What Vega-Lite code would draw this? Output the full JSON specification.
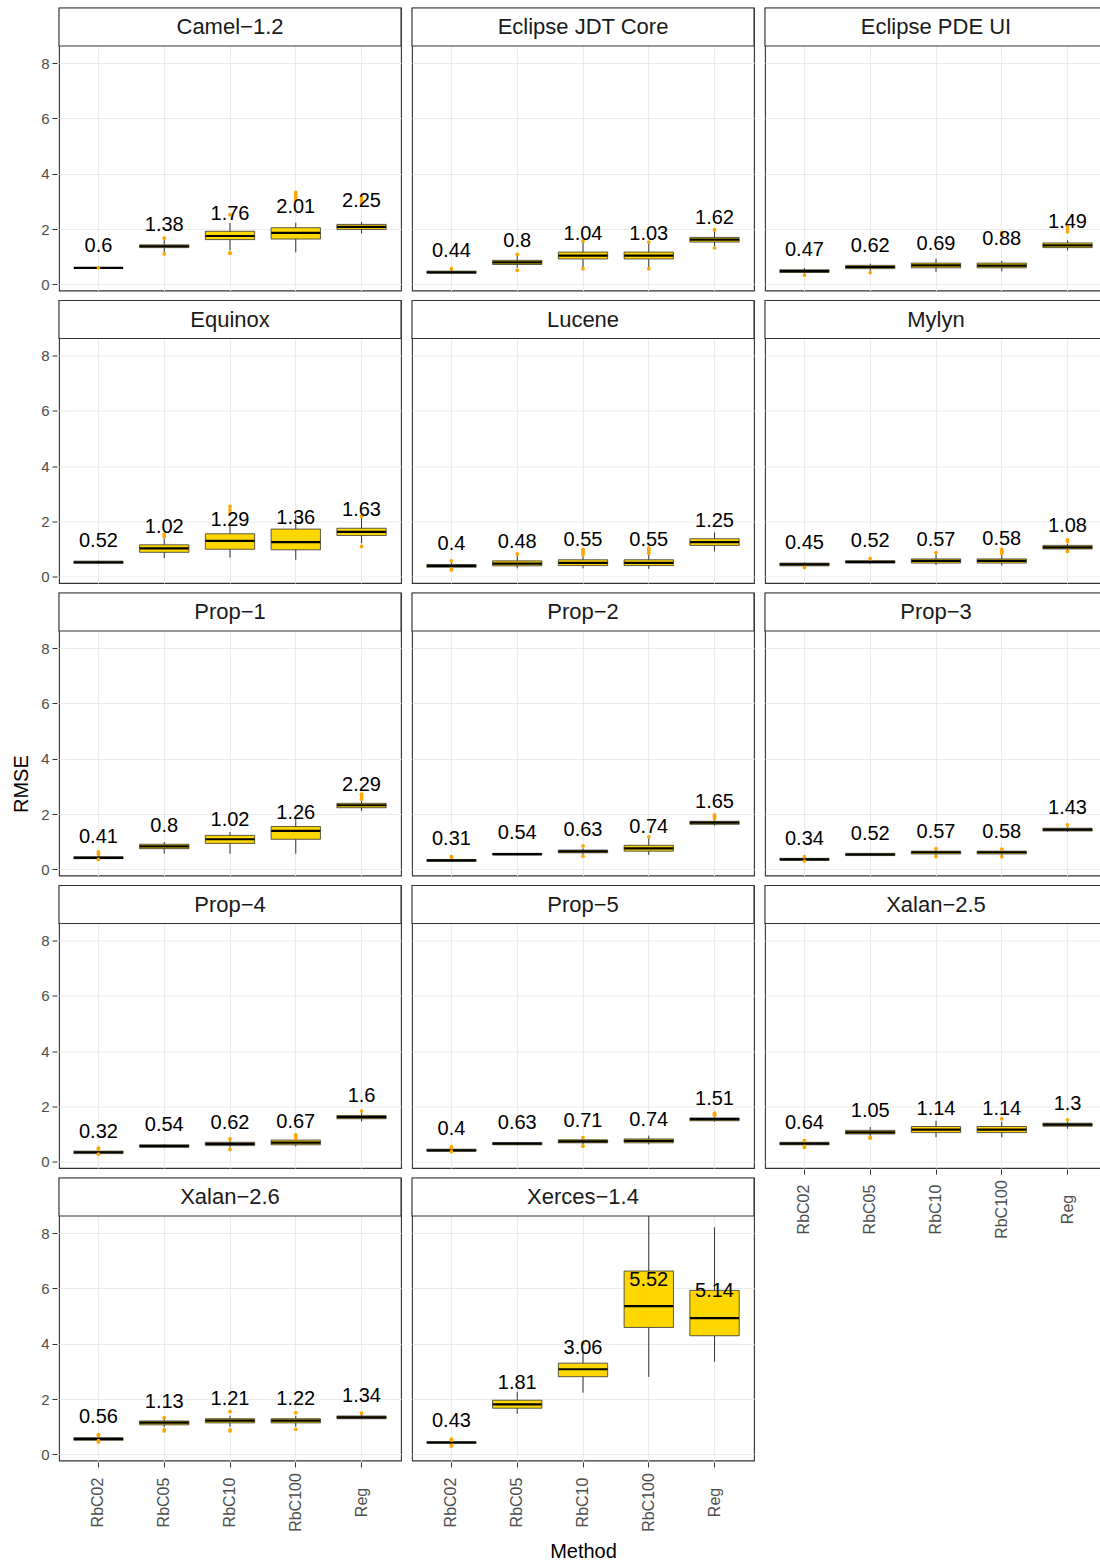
{
  "$schema": "https://vega.github.io/schema/vega-lite/v6.json",
  "padding": {"left": 11, "top": 6, "right": 0, "bottom": 5},
  "config": {
    "font": "Liberation Sans",
    "view": {"stroke": "#333333", "strokeWidth": 1.1}
  },
  "title": {"text": "RMSE", "orient": "left", "anchor": "middle", "fontSize": 20, "fontWeight": "normal", "color": "#000000", "offset": 9},
  "datasets": {"boxes": [
    {"d":"Camel−1.2","m":"RbC02","lo":0.57,"q1":0.585,"med":0.595,"q3":0.605,"hi":0.62,"mean":0.6},
    {"d":"Camel−1.2","m":"RbC05","lo":1.12,"q1":1.33,"med":1.38,"q3":1.43,"hi":1.62,"mean":1.38},
    {"d":"Camel−1.2","m":"RbC10","lo":1.23,"q1":1.62,"med":1.75,"q3":1.92,"hi":2.22,"mean":1.76},
    {"d":"Camel−1.2","m":"RbC100","lo":1.16,"q1":1.64,"med":1.86,"q3":2.05,"hi":2.23,"mean":2.01},
    {"d":"Camel−1.2","m":"Reg","lo":1.84,"q1":1.99,"med":2.08,"q3":2.17,"hi":2.26,"mean":2.25},
    {"d":"Eclipse JDT Core","m":"RbC02","lo":0.37,"q1":0.4,"med":0.44,"q3":0.48,"hi":0.53,"mean":0.44},
    {"d":"Eclipse JDT Core","m":"RbC05","lo":0.6,"q1":0.72,"med":0.8,"q3":0.87,"hi":1.05,"mean":0.8},
    {"d":"Eclipse JDT Core","m":"RbC10","lo":0.6,"q1":0.92,"med":1.04,"q3":1.17,"hi":1.53,"mean":1.04},
    {"d":"Eclipse JDT Core","m":"RbC100","lo":0.6,"q1":0.92,"med":1.04,"q3":1.17,"hi":1.5,"mean":1.03},
    {"d":"Eclipse JDT Core","m":"Reg","lo":1.35,"q1":1.53,"med":1.62,"q3":1.7,"hi":1.93,"mean":1.62},
    {"d":"Eclipse PDE UI","m":"RbC02","lo":0.38,"q1":0.43,"med":0.48,"q3":0.53,"hi":0.6,"mean":0.47},
    {"d":"Eclipse PDE UI","m":"RbC05","lo":0.47,"q1":0.57,"med":0.63,"q3":0.69,"hi":0.75,"mean":0.62},
    {"d":"Eclipse PDE UI","m":"RbC10","lo":0.45,"q1":0.6,"med":0.69,"q3":0.77,"hi":0.93,"mean":0.69},
    {"d":"Eclipse PDE UI","m":"RbC100","lo":0.47,"q1":0.6,"med":0.68,"q3":0.77,"hi":0.85,"mean":0.88},
    {"d":"Eclipse PDE UI","m":"Reg","lo":1.23,"q1":1.33,"med":1.41,"q3":1.5,"hi":1.59,"mean":1.49},
    {"d":"Equinox","m":"RbC02","lo":0.47,"q1":0.49,"med":0.53,"q3":0.57,"hi":0.59,"mean":0.52},
    {"d":"Equinox","m":"RbC05","lo":0.68,"q1":0.89,"med":1.03,"q3":1.16,"hi":1.4,"mean":1.02},
    {"d":"Equinox","m":"RbC10","lo":0.7,"q1":1.0,"med":1.3,"q3":1.56,"hi":1.94,"mean":1.29},
    {"d":"Equinox","m":"RbC100","lo":0.62,"q1":0.98,"med":1.26,"q3":1.73,"hi":2.25,"mean":1.36},
    {"d":"Equinox","m":"Reg","lo":1.22,"q1":1.5,"med":1.63,"q3":1.76,"hi":2.13,"mean":1.63},
    {"d":"Lucene","m":"RbC02","lo":0.3,"q1":0.35,"med":0.4,"q3":0.45,"hi":0.52,"mean":0.4},
    {"d":"Lucene","m":"RbC05","lo":0.31,"q1":0.4,"med":0.48,"q3":0.58,"hi":0.8,"mean":0.48},
    {"d":"Lucene","m":"RbC10","lo":0.31,"q1":0.41,"med":0.51,"q3":0.62,"hi":0.92,"mean":0.55},
    {"d":"Lucene","m":"RbC100","lo":0.29,"q1":0.41,"med":0.51,"q3":0.62,"hi":0.92,"mean":0.55},
    {"d":"Lucene","m":"Reg","lo":0.92,"q1":1.14,"med":1.26,"q3":1.38,"hi":1.61,"mean":1.25},
    {"d":"Mylyn","m":"RbC02","lo":0.38,"q1":0.4,"med":0.45,"q3":0.5,"hi":0.52,"mean":0.45},
    {"d":"Mylyn","m":"RbC05","lo":0.47,"q1":0.5,"med":0.54,"q3":0.59,"hi":0.62,"mean":0.52},
    {"d":"Mylyn","m":"RbC10","lo":0.43,"q1":0.5,"med":0.58,"q3":0.65,"hi":0.86,"mean":0.57},
    {"d":"Mylyn","m":"RbC100","lo":0.41,"q1":0.5,"med":0.58,"q3":0.65,"hi":0.84,"mean":0.58},
    {"d":"Mylyn","m":"Reg","lo":0.95,"q1":1.01,"med":1.07,"q3":1.14,"hi":1.2,"mean":1.08},
    {"d":"Prop−1","m":"RbC02","lo":0.36,"q1":0.39,"med":0.42,"q3":0.46,"hi":0.5,"mean":0.41},
    {"d":"Prop−1","m":"RbC05","lo":0.57,"q1":0.75,"med":0.83,"q3":0.91,"hi":0.99,"mean":0.8},
    {"d":"Prop−1","m":"RbC10","lo":0.57,"q1":0.94,"med":1.09,"q3":1.23,"hi":1.35,"mean":1.02},
    {"d":"Prop−1","m":"RbC100","lo":0.57,"q1":1.09,"med":1.39,"q3":1.55,"hi":1.81,"mean":1.26},
    {"d":"Prop−1","m":"Reg","lo":2.11,"q1":2.23,"med":2.32,"q3":2.39,"hi":2.48,"mean":2.29},
    {"d":"Prop−2","m":"RbC02","lo":0.27,"q1":0.29,"med":0.33,"q3":0.36,"hi":0.4,"mean":0.31},
    {"d":"Prop−2","m":"RbC05","lo":0.5,"q1":0.52,"med":0.55,"q3":0.58,"hi":0.6,"mean":0.54},
    {"d":"Prop−2","m":"RbC10","lo":0.54,"q1":0.6,"med":0.65,"q3":0.7,"hi":0.76,"mean":0.63},
    {"d":"Prop−2","m":"RbC100","lo":0.52,"q1":0.66,"med":0.76,"q3":0.87,"hi":1.15,"mean":0.74},
    {"d":"Prop−2","m":"Reg","lo":1.58,"q1":1.63,"med":1.69,"q3":1.74,"hi":1.8,"mean":1.65},
    {"d":"Prop−3","m":"RbC02","lo":0.31,"q1":0.33,"med":0.36,"q3":0.4,"hi":0.43,"mean":0.34},
    {"d":"Prop−3","m":"RbC05","lo":0.49,"q1":0.5,"med":0.54,"q3":0.58,"hi":0.59,"mean":0.52},
    {"d":"Prop−3","m":"RbC10","lo":0.5,"q1":0.56,"med":0.62,"q3":0.66,"hi":0.72,"mean":0.57},
    {"d":"Prop−3","m":"RbC100","lo":0.5,"q1":0.56,"med":0.62,"q3":0.66,"hi":0.72,"mean":0.58},
    {"d":"Prop−3","m":"Reg","lo":1.36,"q1":1.39,"med":1.44,"q3":1.49,"hi":1.52,"mean":1.43},
    {"d":"Prop−4","m":"RbC02","lo":0.28,"q1":0.3,"med":0.35,"q3":0.39,"hi":0.42,"mean":0.32},
    {"d":"Prop−4","m":"RbC05","lo":0.51,"q1":0.53,"med":0.57,"q3":0.62,"hi":0.64,"mean":0.54},
    {"d":"Prop−4","m":"RbC10","lo":0.52,"q1":0.59,"med":0.65,"q3":0.71,"hi":0.78,"mean":0.62},
    {"d":"Prop−4","m":"RbC100","lo":0.56,"q1":0.62,"med":0.7,"q3":0.79,"hi":0.84,"mean":0.67},
    {"d":"Prop−4","m":"Reg","lo":1.46,"q1":1.56,"med":1.62,"q3":1.68,"hi":1.76,"mean":1.6},
    {"d":"Prop−5","m":"RbC02","lo":0.37,"q1":0.39,"med":0.42,"q3":0.46,"hi":0.49,"mean":0.4},
    {"d":"Prop−5","m":"RbC05","lo":0.6,"q1":0.62,"med":0.66,"q3":0.7,"hi":0.72,"mean":0.63},
    {"d":"Prop−5","m":"RbC10","lo":0.62,"q1":0.69,"med":0.74,"q3":0.8,"hi":0.84,"mean":0.71},
    {"d":"Prop−5","m":"RbC100","lo":0.63,"q1":0.69,"med":0.76,"q3":0.83,"hi":0.95,"mean":0.74},
    {"d":"Prop−5","m":"Reg","lo":1.45,"q1":1.49,"med":1.55,"q3":1.59,"hi":1.64,"mean":1.51},
    {"d":"Xalan−2.5","m":"RbC02","lo":0.58,"q1":0.62,"med":0.66,"q3":0.71,"hi":0.74,"mean":0.64},
    {"d":"Xalan−2.5","m":"RbC05","lo":0.92,"q1":1.01,"med":1.07,"q3":1.14,"hi":1.26,"mean":1.05},
    {"d":"Xalan−2.5","m":"RbC10","lo":0.89,"q1":1.06,"med":1.17,"q3":1.28,"hi":1.49,"mean":1.14},
    {"d":"Xalan−2.5","m":"RbC100","lo":0.89,"q1":1.06,"med":1.17,"q3":1.28,"hi":1.45,"mean":1.14},
    {"d":"Xalan−2.5","m":"Reg","lo":1.2,"q1":1.29,"med":1.35,"q3":1.4,"hi":1.45,"mean":1.3},
    {"d":"Xalan−2.6","m":"RbC02","lo":0.47,"q1":0.51,"med":0.56,"q3":0.6,"hi":0.66,"mean":0.56},
    {"d":"Xalan−2.6","m":"RbC05","lo":0.98,"q1":1.07,"med":1.15,"q3":1.21,"hi":1.28,"mean":1.13},
    {"d":"Xalan−2.6","m":"RbC10","lo":1.0,"q1":1.14,"med":1.22,"q3":1.29,"hi":1.4,"mean":1.21},
    {"d":"Xalan−2.6","m":"RbC100","lo":1.0,"q1":1.14,"med":1.22,"q3":1.29,"hi":1.4,"mean":1.22},
    {"d":"Xalan−2.6","m":"Reg","lo":1.27,"q1":1.29,"med":1.34,"q3":1.39,"hi":1.44,"mean":1.34},
    {"d":"Xerces−1.4","m":"RbC02","lo":0.36,"q1":0.4,"med":0.43,"q3":0.46,"hi":0.5,"mean":0.43},
    {"d":"Xerces−1.4","m":"RbC05","lo":1.47,"q1":1.67,"med":1.81,"q3":1.96,"hi":2.26,"mean":1.81},
    {"d":"Xerces−1.4","m":"RbC10","lo":2.23,"q1":2.81,"med":3.08,"q3":3.3,"hi":3.74,"mean":3.06},
    {"d":"Xerces−1.4","m":"RbC100","lo":2.8,"q1":4.59,"med":5.36,"q3":6.63,"hi":9.2,"mean":5.52},
    {"d":"Xerces−1.4","m":"Reg","lo":3.35,"q1":4.29,"med":4.93,"q3":5.93,"hi":8.21,"mean":5.14},
    {"d":"Camel−1.2","m":"RbC02","out":0.61},
    {"d":"Camel−1.2","m":"RbC05","out":1.67},
    {"d":"Camel−1.2","m":"RbC05","out":1.1},
    {"d":"Camel−1.2","m":"RbC10","out":2.52},
    {"d":"Camel−1.2","m":"RbC10","out":1.14},
    {"d":"Camel−1.2","m":"RbC10","out":1.12},
    {"d":"Camel−1.2","m":"RbC100","out":3.05},
    {"d":"Camel−1.2","m":"RbC100","out":3.15},
    {"d":"Camel−1.2","m":"RbC100","out":3.25},
    {"d":"Camel−1.2","m":"RbC100","out":3.33},
    {"d":"Camel−1.2","m":"Reg","out":2.95},
    {"d":"Camel−1.2","m":"Reg","out":3.05},
    {"d":"Camel−1.2","m":"Reg","out":3.15},
    {"d":"Eclipse JDT Core","m":"RbC02","out":0.57},
    {"d":"Eclipse JDT Core","m":"RbC05","out":1.09},
    {"d":"Eclipse JDT Core","m":"RbC05","out":0.51},
    {"d":"Eclipse JDT Core","m":"RbC10","out":1.57},
    {"d":"Eclipse JDT Core","m":"RbC10","out":0.57},
    {"d":"Eclipse JDT Core","m":"RbC100","out":1.53},
    {"d":"Eclipse JDT Core","m":"RbC100","out":0.57},
    {"d":"Eclipse JDT Core","m":"Reg","out":1.98},
    {"d":"Eclipse JDT Core","m":"Reg","out":1.32},
    {"d":"Eclipse PDE UI","m":"RbC02","out":0.34},
    {"d":"Eclipse PDE UI","m":"RbC05","out":0.43},
    {"d":"Eclipse PDE UI","m":"RbC100","out":1.8},
    {"d":"Eclipse PDE UI","m":"RbC100","out":1.88},
    {"d":"Eclipse PDE UI","m":"Reg","out":1.9},
    {"d":"Eclipse PDE UI","m":"Reg","out":2.0},
    {"d":"Eclipse PDE UI","m":"Reg","out":2.1},
    {"d":"Equinox","m":"RbC05","out":1.46},
    {"d":"Equinox","m":"RbC05","out":1.52},
    {"d":"Equinox","m":"RbC05","out":1.55},
    {"d":"Equinox","m":"RbC10","out":2.31},
    {"d":"Equinox","m":"RbC10","out":2.42},
    {"d":"Equinox","m":"RbC10","out":2.55},
    {"d":"Equinox","m":"Reg","out":2.19},
    {"d":"Equinox","m":"Reg","out":1.1},
    {"d":"Lucene","m":"RbC02","out":0.58},
    {"d":"Lucene","m":"RbC02","out":0.25},
    {"d":"Lucene","m":"RbC02","out":0.28},
    {"d":"Lucene","m":"RbC05","out":0.83},
    {"d":"Lucene","m":"RbC10","out":0.8},
    {"d":"Lucene","m":"RbC10","out":0.88},
    {"d":"Lucene","m":"RbC10","out":0.95},
    {"d":"Lucene","m":"RbC10","out":1.0},
    {"d":"Lucene","m":"RbC100","out":0.86},
    {"d":"Lucene","m":"RbC100","out":0.95},
    {"d":"Lucene","m":"RbC100","out":1.04},
    {"d":"Mylyn","m":"RbC02","out":0.34},
    {"d":"Mylyn","m":"RbC05","out":0.66},
    {"d":"Mylyn","m":"RbC10","out":0.88},
    {"d":"Mylyn","m":"RbC100","out":0.86},
    {"d":"Mylyn","m":"RbC100","out":0.93},
    {"d":"Mylyn","m":"RbC100","out":1.0},
    {"d":"Mylyn","m":"Reg","out":1.28},
    {"d":"Mylyn","m":"Reg","out":1.34},
    {"d":"Mylyn","m":"Reg","out":0.92},
    {"d":"Prop−1","m":"RbC02","out":0.55},
    {"d":"Prop−1","m":"RbC02","out":0.63},
    {"d":"Prop−1","m":"RbC02","out":0.36},
    {"d":"Prop−1","m":"Reg","out":2.54},
    {"d":"Prop−1","m":"Reg","out":2.63},
    {"d":"Prop−1","m":"Reg","out":2.72},
    {"d":"Prop−2","m":"RbC02","out":0.44},
    {"d":"Prop−2","m":"RbC02","out":0.46},
    {"d":"Prop−2","m":"RbC10","out":0.85},
    {"d":"Prop−2","m":"RbC10","out":0.48},
    {"d":"Prop−2","m":"RbC100","out":1.18},
    {"d":"Prop−2","m":"Reg","out":1.84},
    {"d":"Prop−2","m":"Reg","out":1.92},
    {"d":"Prop−2","m":"Reg","out":1.97},
    {"d":"Prop−3","m":"RbC02","out":0.46},
    {"d":"Prop−3","m":"RbC02","out":0.3},
    {"d":"Prop−3","m":"RbC10","out":0.75},
    {"d":"Prop−3","m":"RbC10","out":0.46},
    {"d":"Prop−3","m":"RbC100","out":0.46},
    {"d":"Prop−3","m":"RbC100","out":0.73},
    {"d":"Prop−3","m":"Reg","out":1.61},
    {"d":"Prop−4","m":"RbC02","out":0.46},
    {"d":"Prop−4","m":"RbC02","out":0.5},
    {"d":"Prop−4","m":"RbC02","out":0.28},
    {"d":"Prop−4","m":"RbC10","out":0.83},
    {"d":"Prop−4","m":"RbC10","out":0.45},
    {"d":"Prop−4","m":"RbC100","out":0.86},
    {"d":"Prop−4","m":"RbC100","out":0.92},
    {"d":"Prop−4","m":"RbC100","out":0.98},
    {"d":"Prop−4","m":"Reg","out":1.84},
    {"d":"Prop−5","m":"RbC02","out":0.51},
    {"d":"Prop−5","m":"RbC02","out":0.54},
    {"d":"Prop−5","m":"RbC02","out":0.37},
    {"d":"Prop−5","m":"RbC10","out":0.88},
    {"d":"Prop−5","m":"RbC10","out":0.57},
    {"d":"Prop−5","m":"Reg","out":1.68},
    {"d":"Prop−5","m":"Reg","out":1.72},
    {"d":"Prop−5","m":"Reg","out":1.76},
    {"d":"Xalan−2.5","m":"RbC02","out":0.77},
    {"d":"Xalan−2.5","m":"RbC02","out":0.53},
    {"d":"Xalan−2.5","m":"RbC02","out":0.56},
    {"d":"Xalan−2.5","m":"RbC05","out":0.86},
    {"d":"Xalan−2.5","m":"RbC05","out":0.89},
    {"d":"Xalan−2.5","m":"RbC100","out":1.56},
    {"d":"Xalan−2.5","m":"Reg","out":1.52},
    {"d":"Xalan−2.6","m":"RbC02","out":0.45},
    {"d":"Xalan−2.6","m":"RbC02","out":0.5},
    {"d":"Xalan−2.6","m":"RbC02","out":0.68},
    {"d":"Xalan−2.6","m":"RbC02","out":0.72},
    {"d":"Xalan−2.6","m":"RbC05","out":1.33},
    {"d":"Xalan−2.6","m":"RbC05","out":0.85},
    {"d":"Xalan−2.6","m":"RbC05","out":0.89},
    {"d":"Xalan−2.6","m":"RbC10","out":1.55},
    {"d":"Xalan−2.6","m":"RbC10","out":0.85},
    {"d":"Xalan−2.6","m":"RbC10","out":0.89},
    {"d":"Xalan−2.6","m":"RbC100","out":1.51},
    {"d":"Xalan−2.6","m":"RbC100","out":0.91},
    {"d":"Xalan−2.6","m":"Reg","out":1.49},
    {"d":"Xerces−1.4","m":"RbC02","out":0.3},
    {"d":"Xerces−1.4","m":"RbC02","out":0.33},
    {"d":"Xerces−1.4","m":"RbC02","out":0.52},
    {"d":"Xerces−1.4","m":"RbC02","out":0.55},
    {"d":"Xerces−1.4","m":"RbC10","out":4.02}
  ]},
  "data": {"name": "boxes"},
  "spacing": 7,
  "hconcat": [
    {
      "transform": [{"filter": {"field": "d", "oneOf": ["Camel−1.2","Equinox","Prop−1","Prop−4","Xalan−2.6"]}}],
      "facet": {"row": {"field": "d", "type": "nominal", "sort": ["Camel−1.2","Equinox","Prop−1","Prop−4","Xalan−2.6"], "header": null, "title": null}},
      "spacing": 6.5,
      "spec": {
        "width": 342, "height": 282.5,
        "layer": [
          {
            "transform": [{"filter": "isValid(datum.q1)"}],
            "mark": {"type": "rule", "color": "#333333", "strokeWidth": 1},
            "encoding": {
              "x": {"field": "m", "type": "nominal", "sort": ["RbC02","RbC05","RbC10","RbC100","Reg"], "scale": {"paddingInner": 0.25, "paddingOuter": 0.225}, "title": null,
                "axis": {"grid": true, "gridColor": "#EBEBEB", "gridWidth": 1.1, "labelAngle": -90, "labelAlign": "center", "labelBaseline": "middle", "labelFontSize": 16, "labelColor": "#4D4D4D", "labelPadding": 35, "tickSize": 5, "tickColor": "#333333", "domain": false}},
              "y": {"field": "lo", "type": "quantitative", "title": null, "scale": {"domain": [-0.22, 9.994], "nice": false, "zero": false},
                "axis": {"values": [0,1,2,3,4,5,6,7,8], "labelExpr": "datum.value % 2 === 0 ? datum.label : ''", "gridColor": "#EBEBEB",
                  "gridWidth": {"condition": {"test": "datum.value % 2 === 0", "value": 1.1}, "value": 0.55},
                  "tickOpacity": {"condition": {"test": "datum.value % 2 === 0", "value": 1}, "value": 0},
                  "tickSize": 5, "tickColor": "#333333", "labelColor": "#4D4D4D", "labelFontSize": 15, "labelPadding": 3, "domain": false}},
              "y2": {"field": "hi"}
            }
          },
          {"transform": [{"filter": "isValid(datum.q1)"}], "mark": {"type": "bar", "fill": "#FFD700", "stroke": "#333333", "strokeWidth": 0.8},
            "encoding": {"x": {"field": "m", "type": "nominal", "sort": ["RbC02","RbC05","RbC10","RbC100","Reg"]}, "y": {"field": "q1", "type": "quantitative"}, "y2": {"field": "q3"}}},
          {"transform": [{"filter": "isValid(datum.q1)"}], "mark": {"type": "tick", "color": "#000000", "thickness": 2.2, "size": 49, "opacity": 1},
            "encoding": {"x": {"field": "m", "type": "nominal", "sort": ["RbC02","RbC05","RbC10","RbC100","Reg"]}, "y": {"field": "med", "type": "quantitative"}}},
          {"transform": [{"filter": "isValid(datum.out)"}], "mark": {"type": "circle", "color": "#FFA500", "size": 14, "opacity": 1},
            "encoding": {"x": {"field": "m", "type": "nominal", "sort": ["RbC02","RbC05","RbC10","RbC100","Reg"]}, "y": {"field": "out", "type": "quantitative"}}},
          {"transform": [{"filter": "isValid(datum.mean)"}], "mark": {"type": "text", "dy": -21.5, "fontSize": 20, "baseline": "middle", "color": "#000000"},
            "encoding": {"x": {"field": "m", "type": "nominal", "sort": ["RbC02","RbC05","RbC10","RbC100","Reg"]}, "y": {"field": "mean", "type": "quantitative"}, "text": {"field": "mean", "type": "nominal"}}},
          {"transform": [{"filter": "isValid(datum.q1) && datum.m === 'RbC10'"}], "mark": {"type": "rect", "fill": "#FFFFFF", "stroke": "#333333", "strokeWidth": 1.1},
            "encoding": {"y": {"datum": 8.62, "type": "quantitative"}, "y2": {"datum": 9.994}}},
          {"transform": [{"filter": "isValid(datum.q1) && datum.m === 'RbC10'"}], "mark": {"type": "text", "fontSize": 22, "baseline": "middle", "color": "#1A1A1A"},
            "encoding": {"x": {"field": "m", "type": "nominal", "sort": ["RbC02","RbC05","RbC10","RbC100","Reg"]}, "y": {"datum": 9.307, "type": "quantitative"}, "text": {"field": "d", "type": "nominal"}}}
        ]
      }
    },
    {
      "transform": [{"filter": {"field": "d", "oneOf": ["Eclipse JDT Core","Lucene","Prop−2","Prop−5","Xerces−1.4"]}}],
      "facet": {"row": {"field": "d", "type": "nominal", "sort": ["Eclipse JDT Core","Lucene","Prop−2","Prop−5","Xerces−1.4"], "header": null, "title": null}},
      "spacing": 6.5,
      "spec": {
        "width": 342, "height": 282.5,
        "layer": [
          {
            "transform": [{"filter": "isValid(datum.q1)"}],
            "mark": {"type": "rule", "color": "#333333", "strokeWidth": 1},
            "encoding": {
              "x": {"field": "m", "type": "nominal", "sort": ["RbC02","RbC05","RbC10","RbC100","Reg"], "scale": {"paddingInner": 0.25, "paddingOuter": 0.225}, "title": "Method",
                "axis": {"grid": true, "gridColor": "#EBEBEB", "gridWidth": 1.1, "labelAngle": -90, "labelAlign": "center", "labelBaseline": "middle", "labelFontSize": 16, "labelColor": "#4D4D4D", "labelPadding": 35, "tickSize": 5, "tickColor": "#333333", "domain": false,
                  "titleFontSize": 20, "titleFontWeight": "normal", "titleColor": "#000000", "titlePadding": 10}},
              "y": {"field": "lo", "type": "quantitative", "title": null, "scale": {"domain": [-0.22, 9.994], "nice": false, "zero": false},
                "axis": {"values": [0,1,2,3,4,5,6,7,8], "labels": false, "ticks": false, "domain": false, "gridColor": "#EBEBEB",
                  "gridWidth": {"condition": {"test": "datum.value % 2 === 0", "value": 1.1}, "value": 0.55}}},
              "y2": {"field": "hi"}
            }
          },
          {"transform": [{"filter": "isValid(datum.q1)"}], "mark": {"type": "bar", "fill": "#FFD700", "stroke": "#333333", "strokeWidth": 0.8},
            "encoding": {"x": {"field": "m", "type": "nominal", "sort": ["RbC02","RbC05","RbC10","RbC100","Reg"]}, "y": {"field": "q1", "type": "quantitative"}, "y2": {"field": "q3"}}},
          {"transform": [{"filter": "isValid(datum.q1)"}], "mark": {"type": "tick", "color": "#000000", "thickness": 2.2, "size": 49, "opacity": 1},
            "encoding": {"x": {"field": "m", "type": "nominal", "sort": ["RbC02","RbC05","RbC10","RbC100","Reg"]}, "y": {"field": "med", "type": "quantitative"}}},
          {"transform": [{"filter": "isValid(datum.out)"}], "mark": {"type": "circle", "color": "#FFA500", "size": 14, "opacity": 1},
            "encoding": {"x": {"field": "m", "type": "nominal", "sort": ["RbC02","RbC05","RbC10","RbC100","Reg"]}, "y": {"field": "out", "type": "quantitative"}}},
          {"transform": [{"filter": "isValid(datum.mean)"}], "mark": {"type": "text", "dy": -21.5, "fontSize": 20, "baseline": "middle", "color": "#000000"},
            "encoding": {"x": {"field": "m", "type": "nominal", "sort": ["RbC02","RbC05","RbC10","RbC100","Reg"]}, "y": {"field": "mean", "type": "quantitative"}, "text": {"field": "mean", "type": "nominal"}}},
          {"transform": [{"filter": "isValid(datum.q1) && datum.m === 'RbC10'"}], "mark": {"type": "rect", "fill": "#FFFFFF", "stroke": "#333333", "strokeWidth": 1.1},
            "encoding": {"y": {"datum": 8.62, "type": "quantitative"}, "y2": {"datum": 9.994}}},
          {"transform": [{"filter": "isValid(datum.q1) && datum.m === 'RbC10'"}], "mark": {"type": "text", "fontSize": 22, "baseline": "middle", "color": "#1A1A1A"},
            "encoding": {"x": {"field": "m", "type": "nominal", "sort": ["RbC02","RbC05","RbC10","RbC100","Reg"]}, "y": {"datum": 9.307, "type": "quantitative"}, "text": {"field": "d", "type": "nominal"}}}
        ]
      }
    },
    {
      "transform": [{"filter": {"field": "d", "oneOf": ["Eclipse PDE UI","Mylyn","Prop−3","Xalan−2.5"]}}],
      "facet": {"row": {"field": "d", "type": "nominal", "sort": ["Eclipse PDE UI","Mylyn","Prop−3","Xalan−2.5"], "header": null, "title": null}},
      "spacing": 6.5,
      "spec": {
        "width": 342, "height": 282.5,
        "layer": [
          {
            "transform": [{"filter": "isValid(datum.q1)"}],
            "mark": {"type": "rule", "color": "#333333", "strokeWidth": 1},
            "encoding": {
              "x": {"field": "m", "type": "nominal", "sort": ["RbC02","RbC05","RbC10","RbC100","Reg"], "scale": {"paddingInner": 0.25, "paddingOuter": 0.225}, "title": null,
                "axis": {"grid": true, "gridColor": "#EBEBEB", "gridWidth": 1.1, "labelAngle": -90, "labelAlign": "center", "labelBaseline": "middle", "labelFontSize": 16, "labelColor": "#4D4D4D", "labelPadding": 35, "tickSize": 5, "tickColor": "#333333", "domain": false}},
              "y": {"field": "lo", "type": "quantitative", "title": null, "scale": {"domain": [-0.22, 9.994], "nice": false, "zero": false},
                "axis": {"values": [0,1,2,3,4,5,6,7,8], "labels": false, "ticks": false, "domain": false, "gridColor": "#EBEBEB",
                  "gridWidth": {"condition": {"test": "datum.value % 2 === 0", "value": 1.1}, "value": 0.55}}},
              "y2": {"field": "hi"}
            }
          },
          {"transform": [{"filter": "isValid(datum.q1)"}], "mark": {"type": "bar", "fill": "#FFD700", "stroke": "#333333", "strokeWidth": 0.8},
            "encoding": {"x": {"field": "m", "type": "nominal", "sort": ["RbC02","RbC05","RbC10","RbC100","Reg"]}, "y": {"field": "q1", "type": "quantitative"}, "y2": {"field": "q3"}}},
          {"transform": [{"filter": "isValid(datum.q1)"}], "mark": {"type": "tick", "color": "#000000", "thickness": 2.2, "size": 49, "opacity": 1},
            "encoding": {"x": {"field": "m", "type": "nominal", "sort": ["RbC02","RbC05","RbC10","RbC100","Reg"]}, "y": {"field": "med", "type": "quantitative"}}},
          {"transform": [{"filter": "isValid(datum.out)"}], "mark": {"type": "circle", "color": "#FFA500", "size": 14, "opacity": 1},
            "encoding": {"x": {"field": "m", "type": "nominal", "sort": ["RbC02","RbC05","RbC10","RbC100","Reg"]}, "y": {"field": "out", "type": "quantitative"}}},
          {"transform": [{"filter": "isValid(datum.mean)"}], "mark": {"type": "text", "dy": -21.5, "fontSize": 20, "baseline": "middle", "color": "#000000"},
            "encoding": {"x": {"field": "m", "type": "nominal", "sort": ["RbC02","RbC05","RbC10","RbC100","Reg"]}, "y": {"field": "mean", "type": "quantitative"}, "text": {"field": "mean", "type": "nominal"}}},
          {"transform": [{"filter": "isValid(datum.q1) && datum.m === 'RbC10'"}], "mark": {"type": "rect", "fill": "#FFFFFF", "stroke": "#333333", "strokeWidth": 1.1},
            "encoding": {"y": {"datum": 8.62, "type": "quantitative"}, "y2": {"datum": 9.994}}},
          {"transform": [{"filter": "isValid(datum.q1) && datum.m === 'RbC10'"}], "mark": {"type": "text", "fontSize": 22, "baseline": "middle", "color": "#1A1A1A"},
            "encoding": {"x": {"field": "m", "type": "nominal", "sort": ["RbC02","RbC05","RbC10","RbC100","Reg"]}, "y": {"datum": 9.307, "type": "quantitative"}, "text": {"field": "d", "type": "nominal"}}}
        ]
      }
    }
  ]
}
